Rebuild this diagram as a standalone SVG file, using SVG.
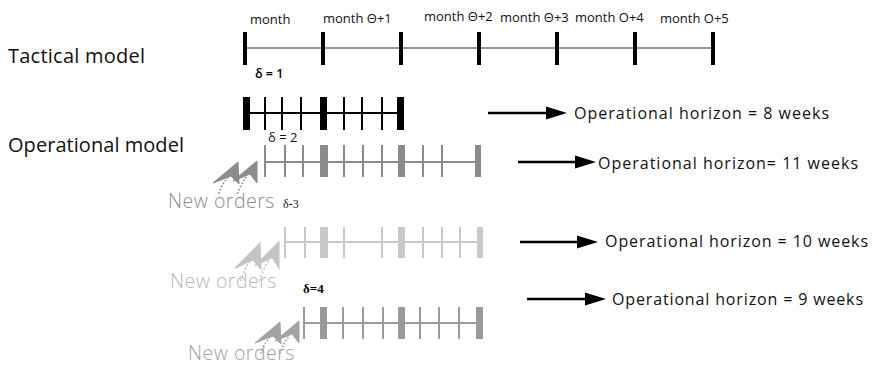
<svg xmlns="http://www.w3.org/2000/svg" width="873" height="367" viewBox="0 0 873 367">
  <style>
    .sans { font-family: "Open Sans", "Noto Sans", "DejaVu Sans", sans-serif; }
    .serif { font-family: "Liberation Serif", "DejaVu Serif", serif; }
    .title { font-size: 20px; fill: #111; }
    .month { font-size: 13px; fill: #111; }
    .horizon { font-size: 16px; fill: #111; }
    .orders { font-size: 19.5px; font-weight: 300; letter-spacing: 0.5px; }
    .axis { stroke-width: 2; fill: none; }
    .big-arrow { stroke: #000; stroke-width: 2.5; fill: none; }
    .head { fill: #000; }
    .dots { fill: none; stroke-width: 1.8; stroke-dasharray: 0.1 3.4; stroke-linecap: round; }
  </style>
  <defs>
    <!-- pair of up-right arrowheads with dotted trails, tip of the first at 0,0 -->
    <g id="incoming">
      <path d="M0,0 L-25,21 L-7,14 L1,22 Z"/>
      <path d="M19,-1 L-5,19 L12,12 L19,21 Z"/>
      <path class="dots" d="M-19,31 Q-16,22 -10,15"/>
      <path class="dots" d="M0,31 Q3,22 9,14"/>
    </g>
  </defs>

  <rect width="873" height="367" fill="#fff"/>

  <!-- tactical model: monthly buckets -->
  <g id="tactical-model">
    <text class="sans title" x="8" y="63" textLength="137">Tactical model</text>
    <line x1="245" y1="48" x2="713" y2="48" stroke="#777" stroke-width="1.6"/>
    <g fill="#000">
      <rect x="243" y="32" width="4" height="33"/>
      <rect x="321" y="32" width="4" height="33"/>
      <rect x="399" y="32" width="4" height="33"/>
      <rect x="477" y="32" width="4" height="33"/>
      <rect x="555" y="32" width="4" height="33"/>
      <rect x="633" y="32" width="4" height="33"/>
      <rect x="711" y="32" width="4" height="33"/>
    </g>
    <g class="sans month">
      <text x="250" y="24">month</text>
      <text x="323" y="23">month Θ+1</text>
      <text x="424" y="21">month Θ+2</text>
      <text x="500" y="22">month Θ+3</text>
      <text x="575" y="22">month O+4</text>
      <text x="660" y="23">month O+5</text>
    </g>
  </g>

  <text class="sans title" x="8" y="152" textLength="176">Operational model</text>

  <!-- operational run, delta = 1 -->
  <g id="run-delta-1">
    <text class="sans" x="255" y="78" font-size="12.5" font-weight="600" fill="#000">δ = 1</text>
    <line class="axis" x1="246" y1="113" x2="401" y2="113" stroke="#000"/>
    <g fill="#000">
      <rect x="243" y="97" width="7" height="33"/>
      <rect x="320" y="97" width="7" height="33"/>
      <rect x="397" y="97" width="7" height="33"/>
      <rect x="264" y="97" width="2" height="33"/>
      <rect x="281" y="97" width="2" height="33"/>
      <rect x="300" y="97" width="2" height="33"/>
      <rect x="343" y="97" width="2" height="33"/>
      <rect x="361" y="97" width="2" height="33"/>
      <rect x="381" y="97" width="2" height="33"/>
    </g>
  </g>

  <!-- operational run, delta = 2 -->
  <g id="run-delta-2">
    <text class="sans" x="268" y="142" font-size="13" fill="#111">δ = 2</text>
    <line class="axis" x1="265" y1="162" x2="478" y2="162" stroke="#8a8a8a"/>
    <g fill="#8a8a8a">
      <rect x="320" y="145" width="8" height="32"/>
      <rect x="398" y="145" width="7" height="32"/>
      <rect x="475" y="145" width="6" height="32"/>
      <rect x="264" y="145" width="2" height="32"/>
      <rect x="284" y="145" width="2" height="32"/>
      <rect x="302" y="145" width="2" height="32"/>
      <rect x="343" y="145" width="2" height="32"/>
      <rect x="362" y="145" width="2" height="32"/>
      <rect x="381" y="145" width="2" height="32"/>
      <rect x="422" y="145" width="2" height="32"/>
      <rect x="441" y="145" width="2" height="32"/>
    </g>
    <use href="#incoming" x="238" y="162" fill="#8c8c8c" stroke="#8c8c8c"/>
    <text class="sans orders" x="168" y="208" fill="#8c8c8c">New orders</text>
  </g>

  <!-- operational run, delta = 3 -->
  <g id="run-delta-3">
    <text class="serif" x="283" y="208" font-size="12" fill="#111">δ-3</text>
    <line class="axis" x1="285" y1="242" x2="480" y2="242" stroke="#c8c8c8"/>
    <g fill="#c8c8c8">
      <rect x="320" y="227" width="8" height="31"/>
      <rect x="398" y="227" width="7" height="31"/>
      <rect x="477" y="227" width="6" height="31"/>
      <rect x="284" y="227" width="2" height="31"/>
      <rect x="304" y="227" width="2" height="31"/>
      <rect x="343" y="227" width="2" height="31"/>
      <rect x="381" y="227" width="2" height="31"/>
      <rect x="422" y="227" width="2" height="31"/>
      <rect x="441" y="227" width="2" height="31"/>
      <rect x="459" y="227" width="2" height="31"/>
    </g>
    <use href="#incoming" transform="translate(260 243) scale(1 1.2)" fill="#c4c4c4" stroke="#c4c4c4"/>
    <text class="sans orders" x="170" y="288" fill="#b8b8b8">New orders</text>
  </g>

  <!-- operational run, delta = 4 -->
  <g id="run-delta-4">
    <text class="serif" x="303" y="293" font-size="13" font-weight="bold" fill="#000">δ=4</text>
    <line class="axis" x1="304" y1="323" x2="480" y2="323" stroke="#9a9a9a"/>
    <g fill="#9a9a9a">
      <rect x="320" y="307" width="7" height="32"/>
      <rect x="398" y="307" width="7" height="32"/>
      <rect x="476" y="307" width="7" height="32"/>
      <rect x="303" y="307" width="2" height="32"/>
      <rect x="342" y="307" width="2" height="32"/>
      <rect x="362" y="307" width="2" height="32"/>
      <rect x="382" y="307" width="2" height="32"/>
      <rect x="419" y="307" width="2" height="32"/>
      <rect x="438" y="307" width="2" height="32"/>
      <rect x="458" y="307" width="2" height="32"/>
    </g>
    <use href="#incoming" x="280" y="322" fill="#a3a3a3" stroke="#a3a3a3"/>
    <text class="sans orders" x="188" y="360" fill="#a0a0a0">New orders</text>
  </g>

  <!-- horizon arrows -->
  <g id="connectors">
    <line class="big-arrow" x1="488" y1="113" x2="548" y2="113"/>
    <path class="head" d="M546,106.5 L567,113 L546,119.5 Z"/>
    <line class="big-arrow" x1="518" y1="162" x2="577" y2="162"/>
    <path class="head" d="M575,155.5 L596,162 L575,168.5 Z"/>
    <line class="big-arrow" x1="520" y1="242" x2="579" y2="242"/>
    <path class="head" d="M577,235.5 L598,242 L577,248.5 Z"/>
    <line class="big-arrow" x1="527" y1="299" x2="587" y2="299"/>
    <path class="head" d="M585,292.5 L606,299 L585,305.5 Z"/>
  </g>

  <g id="horizon-labels" class="sans horizon">
    <text x="574" y="119" textLength="255">Operational horizon = 8 weeks</text>
    <text x="598" y="169" textLength="260">Operational horizon= 11 weeks</text>
    <text x="605" y="247" textLength="263">Operational horizon = 10 weeks</text>
    <text x="612" y="305" textLength="251">Operational horizon = 9 weeks</text>
  </g>
</svg>
